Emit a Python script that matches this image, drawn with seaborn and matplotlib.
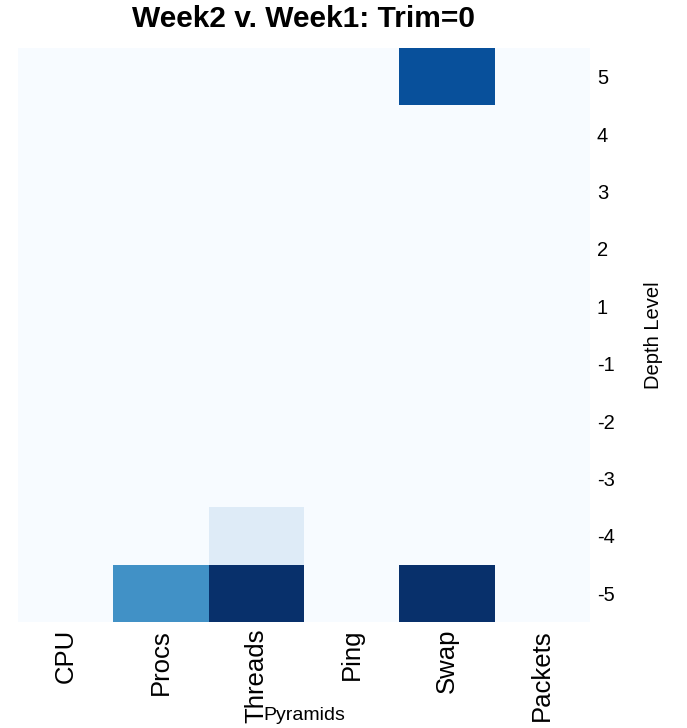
import matplotlib
matplotlib.use("Agg")
import matplotlib.pyplot as plt
import numpy as np
import pandas as pd
import seaborn as sns

# Metrics (columns) and depth levels (rows, top to bottom)
metrics = ["CPU", "Procs", "Threads", "Ping", "Swap", "Packets"]
depth_levels = [5, 4, 3, 2, 1, -1, -2, -3, -4, -5]

# Per-metric counts at each depth level, ordered as depth_levels
cpu     = [0, 0, 0, 0, 0, 0, 0, 0, 0, 0]
procs   = [0, 0, 0, 0, 0, 0, 0, 0, 0, 5]
threads = [0, 0, 0, 0, 0, 0, 0, 0, 1, 8]
ping    = [0, 0, 0, 0, 0, 0, 0, 0, 0, 0]
swap    = [7, 0, 0, 0, 0, 0, 0, 0, 0, 8]
packets = [0, 0, 0, 0, 0, 0, 0, 0, 0, 0]

df = pd.DataFrame(
    {"CPU": cpu, "Procs": procs, "Threads": threads,
     "Ping": ping, "Swap": swap, "Packets": packets},
    index=depth_levels,
)[metrics]

sns.set_theme(style="white")
plt.rcParams["font.family"] = ["Liberation Sans", "DejaVu Sans"]
for key in ("text.color", "axes.labelcolor", "xtick.color", "ytick.color"):
    plt.rcParams[key] = "black"

fig = plt.figure(figsize=(6.87, 7.28), dpi=100)
W, H = 687, 728
left, right, top, bottom = 18, 590, 48, 622
ax = fig.add_axes([left / W, 1 - bottom / H, (right - left) / W, (bottom - top) / H])

sns.heatmap(df, cmap="Blues", vmin=0, vmax=8, cbar=False, ax=ax,
            linewidths=0)

ax.yaxis.tick_right()
ax.yaxis.set_label_position("right")
ax.tick_params(axis="y", length=0, pad=5, labelsize=14.5, rotation=0)
ax.tick_params(axis="x", length=0, pad=5, labelsize=18.5, rotation=90)
for lab in ax.get_yticklabels():
    lab.set_ha("left")

ax.set_xlabel("Pyramids", fontsize=14)
ax.xaxis.set_label_coords(0.5, -0.163)
ax.xaxis.label.set_va("center")

ax.set_ylabel("Depth Level", fontsize=14.5, rotation=90)
ax.yaxis.set_label_coords(1.111, 0.5)
ax.yaxis.label.set_va("center")

ax.set_title("Week2 v. Week1: Trim=0", fontsize=21.5, fontweight="bold", pad=15)

for s in ax.spines.values():
    s.set_visible(False)

fig.savefig("out.png", dpi=100)
